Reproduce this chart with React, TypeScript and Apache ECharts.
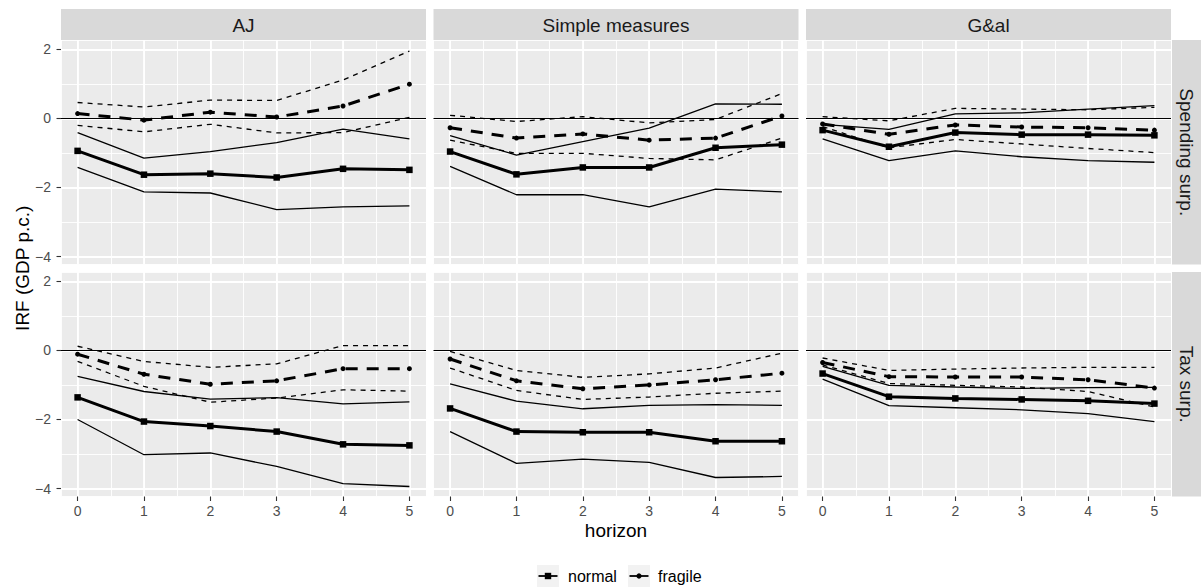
import { useEffect, useRef } from 'react';
import * as echarts from 'echarts';

const HORIZONS = [0, 1, 2, 3, 4, 5];
const MODELS = ['AJ', 'Simple measures', 'G&al'];
const SHOCKS = ['Spending surp.', 'Tax surp.'];
const X_TICKS = [0, 1, 2, 3, 4, 5];
const Y_TICKS = [-4, -2, 0, 2];
const LEGEND_LABELS = ['normal', 'fragile'];
const X_TITLE = 'horizon';
const Y_TITLE = 'IRF (GDP p.c.)';

// Spending surprise — AJ
const AJ_SP_NORMAL = [-0.94, -1.63, -1.6, -1.71, -1.46, -1.49];
const AJ_SP_NORMAL_HI = [-0.41, -1.15, -0.96, -0.7, -0.31, -0.59];
const AJ_SP_NORMAL_LO = [-1.42, -2.13, -2.16, -2.64, -2.56, -2.53];
const AJ_SP_FRAGILE = [0.14, -0.05, 0.18, 0.04, 0.36, 0.99];
const AJ_SP_FRAGILE_HI = [0.46, 0.33, 0.53, 0.52, 1.11, 1.95];
const AJ_SP_FRAGILE_LO = [-0.2, -0.39, -0.17, -0.42, -0.41, 0.03];

// Spending surprise — Simple measures
const SM_SP_NORMAL = [-0.96, -1.62, -1.42, -1.42, -0.85, -0.76];
const SM_SP_NORMAL_HI = [-0.5, -1.06, -0.67, -0.28, 0.42, 0.41];
const SM_SP_NORMAL_LO = [-1.39, -2.21, -2.21, -2.56, -2.05, -2.13];
const SM_SP_FRAGILE = [-0.27, -0.57, -0.45, -0.63, -0.57, 0.07];
const SM_SP_FRAGILE_HI = [0.09, -0.09, 0.05, -0.13, -0.03, 0.72];
const SM_SP_FRAGILE_LO = [-0.63, -1.01, -1.01, -1.16, -1.2, -0.57];

// Spending surprise — G&al
const GA_SP_NORMAL = [-0.34, -0.82, -0.41, -0.47, -0.47, -0.49];
const GA_SP_NORMAL_HI = [-0.17, -0.32, 0.13, 0.16, 0.27, 0.37];
const GA_SP_NORMAL_LO = [-0.59, -1.22, -0.94, -1.11, -1.22, -1.27];
const GA_SP_FRAGILE = [-0.16, -0.46, -0.19, -0.25, -0.27, -0.34];
const GA_SP_FRAGILE_HI = [0.05, -0.07, 0.29, 0.27, 0.25, 0.32];
const GA_SP_FRAGILE_LO = [-0.24, -0.85, -0.61, -0.74, -0.87, -0.99];

// Tax surprise — AJ
const AJ_TX_NORMAL = [-1.36, -2.06, -2.19, -2.35, -2.72, -2.75];
const AJ_TX_NORMAL_HI = [-0.75, -1.19, -1.41, -1.37, -1.55, -1.49];
const AJ_TX_NORMAL_LO = [-2.0, -3.02, -2.97, -3.36, -3.86, -3.94];
const AJ_TX_FRAGILE = [-0.11, -0.69, -0.98, -0.88, -0.53, -0.53];
const AJ_TX_FRAGILE_HI = [0.12, -0.32, -0.49, -0.39, 0.14, 0.14];
const AJ_TX_FRAGILE_LO = [-0.32, -1.04, -1.5, -1.38, -1.14, -1.18];

// Tax surprise — Simple measures
const SM_TX_NORMAL = [-1.68, -2.35, -2.37, -2.37, -2.63, -2.63];
const SM_TX_NORMAL_HI = [-0.97, -1.47, -1.69, -1.59, -1.57, -1.59];
const SM_TX_NORMAL_LO = [-2.35, -3.27, -3.15, -3.24, -3.68, -3.65];
const SM_TX_FRAGILE = [-0.25, -0.88, -1.11, -1.0, -0.85, -0.66];
const SM_TX_FRAGILE_HI = [-0.03, -0.58, -0.78, -0.68, -0.51, -0.08];
const SM_TX_FRAGILE_LO = [-0.51, -1.16, -1.42, -1.35, -1.24, -1.18];

// Tax surprise — G&al
const GA_TX_NORMAL = [-0.67, -1.34, -1.39, -1.42, -1.46, -1.54];
const GA_TX_NORMAL_HI = [-0.46, -1.01, -1.06, -1.1, -1.08, -1.07];
const GA_TX_NORMAL_LO = [-0.83, -1.6, -1.66, -1.72, -1.83, -2.06];
const GA_TX_FRAGILE = [-0.35, -0.76, -0.77, -0.77, -0.85, -1.09];
const GA_TX_FRAGILE_HI = [-0.22, -0.58, -0.54, -0.51, -0.49, -0.49];
const GA_TX_FRAGILE_LO = [-0.42, -0.96, -1.01, -1.06, -1.19, -1.64];

const PANEL_DATA = [
  [AJ_SP_NORMAL, AJ_SP_NORMAL_HI, AJ_SP_NORMAL_LO, AJ_SP_FRAGILE, AJ_SP_FRAGILE_HI, AJ_SP_FRAGILE_LO],
  [SM_SP_NORMAL, SM_SP_NORMAL_HI, SM_SP_NORMAL_LO, SM_SP_FRAGILE, SM_SP_FRAGILE_HI, SM_SP_FRAGILE_LO],
  [GA_SP_NORMAL, GA_SP_NORMAL_HI, GA_SP_NORMAL_LO, GA_SP_FRAGILE, GA_SP_FRAGILE_HI, GA_SP_FRAGILE_LO],
  [AJ_TX_NORMAL, AJ_TX_NORMAL_HI, AJ_TX_NORMAL_LO, AJ_TX_FRAGILE, AJ_TX_FRAGILE_HI, AJ_TX_FRAGILE_LO],
  [SM_TX_NORMAL, SM_TX_NORMAL_HI, SM_TX_NORMAL_LO, SM_TX_FRAGILE, SM_TX_FRAGILE_HI, SM_TX_FRAGILE_LO],
  [GA_TX_NORMAL, GA_TX_NORMAL_HI, GA_TX_NORMAL_LO, GA_TX_FRAGILE, GA_TX_FRAGILE_HI, GA_TX_FRAGILE_LO],
];

const FONT = "'Liberation Sans', Arial, Helvetica, sans-serif";
const COL_LEFT = [61, 433.5, 806];
const PANEL_W = 365;
const ROW_TOP = [40, 272];
const PANEL_H = 224.5;
const X_MIN = -0.25;
const X_MAX = 5.25;
const Y_MIN = -4.23;
const Y_MAX = 2.27;

const fmt = (v: number) => (v < 0 ? '\u2212' + Math.abs(v) : String(v));

export default function App() {
  const ref = useRef<HTMLDivElement>(null);
  useEffect(() => {
    if (!ref.current) return;
    const chart = echarts.init(ref.current, undefined, { renderer: 'svg' });

    const grids: any[] = [];
    const xAxes: any[] = [];
    const yAxes: any[] = [];
    const series: any[] = [];
    const graphics: any[] = [];

    for (let r = 0; r < 2; r++) {
      for (let c = 0; c < 3; c++) {
        const g = r * 3 + c;
        grids.push({
          left: COL_LEFT[c],
          top: ROW_TOP[r],
          width: PANEL_W,
          height: PANEL_H,
          show: true,
          backgroundColor: '#EBEBEB',
          borderWidth: 0,
        });
        // minor axes (index 2g)
        xAxes.push({
          type: 'value', gridIndex: g, min: X_MIN, max: X_MAX, position: 'top',
          minInterval: 0.5, maxInterval: 0.5,
          axisLine: { show: false }, axisTick: { show: false }, axisLabel: { show: false },
          splitLine: { show: true, lineStyle: { color: '#FFFFFF', width: 0.9 } },
        });
        yAxes.push({
          type: 'value', gridIndex: g, min: Y_MIN, max: Y_MAX, position: 'right',
          minInterval: 1, maxInterval: 1,
          axisLine: { show: false }, axisTick: { show: false }, axisLabel: { show: false },
          splitLine: { show: true, lineStyle: { color: '#FFFFFF', width: 0.9 } },
        });
        // major axes (index 2g+1)
        xAxes.push({
          type: 'value', gridIndex: g, min: X_MIN, max: X_MAX, position: 'bottom',
          minInterval: 1, maxInterval: 1,
          axisLine: { show: false, onZero: false },
          axisTick: { show: r === 1, customValues: X_TICKS, length: 4.5, lineStyle: { color: '#333333', width: 1.1 } },
          axisLabel: {
            show: r === 1, customValues: X_TICKS, color: '#4D4D4D', fontSize: 14,
            fontFamily: FONT, margin: 7, formatter: (v: number) => fmt(v),
          },
          splitLine: { show: true, lineStyle: { color: '#FFFFFF', width: 1.8 } },
        });
        yAxes.push({
          type: 'value', gridIndex: g, min: Y_MIN, max: Y_MAX, position: 'left',
          minInterval: 2, maxInterval: 2,
          axisLine: { show: false, onZero: false },
          axisTick: { show: c === 0, customValues: Y_TICKS, length: 4.5, lineStyle: { color: '#333333', width: 1.1 } },
          axisLabel: {
            show: c === 0, customValues: Y_TICKS, color: '#4D4D4D', fontSize: 14,
            fontFamily: FONT, margin: 10, formatter: (v: number) => fmt(v),
          },
          splitLine: { show: true, lineStyle: { color: '#FFFFFF', width: 1.8 } },
        });

        const [nC, nH, nL, fC, fH, fL] = PANEL_DATA[g];
        const mk = (vals: number[], width: number, type: any, symbol: string, size: number, z: number, extra: any = {}) => ({
          type: 'line',
          xAxisIndex: 2 * g + 1,
          yAxisIndex: 2 * g + 1,
          data: HORIZONS.map((h, i) => [h, vals[i]]),
          symbol,
          symbolSize: size,
          showSymbol: symbol !== 'none',
          lineStyle: { color: '#000000', width, type },
          itemStyle: { color: '#000000', borderWidth: 0 },
          silent: true,
          z,
          ...extra,
        });
        series.push(
          mk(nH, 1.3, 'solid', 'none', 0, 3, {
            markLine: {
              silent: true, symbol: ['none', 'none'], animation: false,
              label: { show: false },
              lineStyle: { color: '#000000', width: 1.1, type: 'solid' },
              data: [{ yAxis: 0 }],
            },
          }),
          mk(nL, 1.3, 'solid', 'none', 0, 3),
          mk(fH, 1.3, [5, 5], 'none', 0, 3),
          mk(fL, 1.3, [5, 5], 'none', 0, 3),
          mk(nC, 3, 'solid', 'rect', 6.5, 4),
          mk(fC, 3, [12, 9], 'circle', 5, 4),
        );
      }
    }

    // Top strips
    for (let c = 0; c < 3; c++) {
      graphics.push({ type: 'rect', shape: { x: COL_LEFT[c], y: 9, width: PANEL_W, height: 31 }, style: { fill: '#D9D9D9' }, silent: true });
      graphics.push({
        type: 'text', x: COL_LEFT[c] + PANEL_W / 2, y: 25,
        style: { text: MODELS[c], fill: '#1A1A1A', fontSize: 19, fontFamily: FONT, align: 'center', verticalAlign: 'middle' },
        silent: true,
      });
    }
    // Right strips
    for (let r = 0; r < 2; r++) {
      graphics.push({ type: 'rect', shape: { x: 1172, y: ROW_TOP[r], width: 31, height: PANEL_H }, style: { fill: '#D9D9D9' }, silent: true });
      graphics.push({
        type: 'text', x: 1186, y: ROW_TOP[r] + PANEL_H / 2, rotation: -Math.PI / 2,
        style: { text: SHOCKS[r], fill: '#1A1A1A', fontSize: 19, fontFamily: FONT, align: 'center', verticalAlign: 'middle' },
        silent: true,
      });
    }
    // Axis titles
    graphics.push({
      type: 'text', x: COL_LEFT[1] + PANEL_W / 2, y: 530,
      style: { text: X_TITLE, fill: '#000000', fontSize: 19, fontFamily: FONT, align: 'center', verticalAlign: 'middle' },
      silent: true,
    });
    graphics.push({
      type: 'text', x: 22, y: (ROW_TOP[0] + ROW_TOP[1] + PANEL_H) / 2, rotation: Math.PI / 2,
      style: { text: Y_TITLE, fill: '#000000', fontSize: 19, fontFamily: FONT, align: 'center', verticalAlign: 'middle' },
      silent: true,
    });
    // Legend
    const keyX = [537, 628];
    const textX = [568, 658];
    const cy = 576;
    for (let i = 0; i < 2; i++) {
      graphics.push({ type: 'rect', shape: { x: keyX[i], y: cy - 11, width: 22, height: 22 }, style: { fill: '#F2F2F2' }, silent: true });
      graphics.push({ type: 'line', shape: { x1: keyX[i] + 1.5, y1: cy, x2: keyX[i] + 20.5, y2: cy }, style: { stroke: '#000000', lineWidth: 1.8 }, silent: true });
      if (i === 0) {
        graphics.push({ type: 'rect', shape: { x: keyX[i] + 11 - 3.2, y: cy - 3.2, width: 6.4, height: 6.4 }, style: { fill: '#000000' }, silent: true });
      } else {
        graphics.push({ type: 'circle', shape: { cx: keyX[i] + 11, cy, r: 2.6 }, style: { fill: '#000000' }, silent: true });
      }
      graphics.push({
        type: 'text', x: textX[i], y: cy,
        style: { text: LEGEND_LABELS[i], fill: '#000000', fontSize: 16, fontFamily: FONT, align: 'left', verticalAlign: 'middle' },
        silent: true,
      });
    }

    chart.setOption({
      animation: false,
      backgroundColor: '#FFFFFF',
      textStyle: { fontFamily: FONT },
      grid: grids,
      xAxis: xAxes,
      yAxis: yAxes,
      series,
      graphic: graphics,
    });
    return () => chart.dispose();
  }, []);

  return (
    <div
      ref={ref}
      style={{ position: 'fixed', left: 0, top: 0, width: 1201, height: 588, background: '#fff' }}
    />
  );
}
